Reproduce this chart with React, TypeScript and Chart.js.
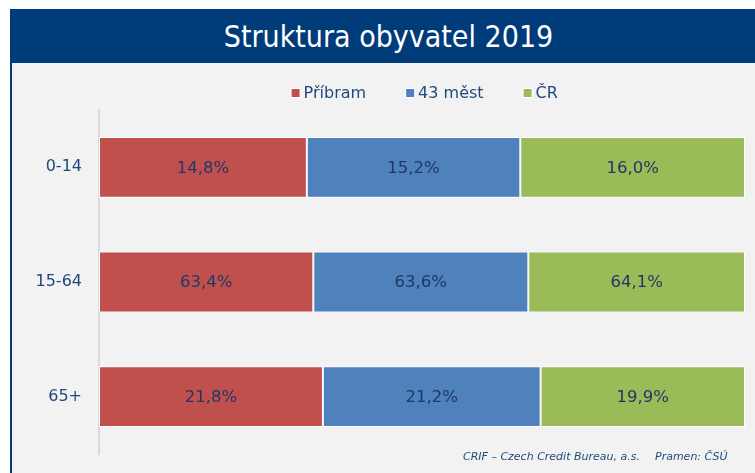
import { useEffect, useRef } from "react";
import { Chart, registerables } from "chart.js";

Chart.register(...registerables);

const categories = ["0-14", "15-64", "65+"];
const seriesNames = ["Příbram", "43 měst", "ČR"];
const pribram = [14.8, 63.4, 21.8];
const mest43 = [15.2, 63.6, 21.2];
const cr = [16.0, 64.1, 19.9];
const seriesColors = ["#C0504D", "#4F81BD", "#9BBB59"];

const titleText = "Struktura obyvatel 2019";
const footerLeft = "CRIF – Czech Credit Bureau, a.s.";
const footerRight = "Pramen: ČSÚ";

const TEXT_BLUE = "#1F497D";
const LABEL_BLUE = "#1F3864";
const HEADER_BLUE = "#003B7A";

const fmt = (v: number) => v.toFixed(1).replace(".", ",") + "%";

const valueLabelsPlugin = {
  id: "valueLabels",
  afterDatasetsDraw(chart: any) {
    const ctx = chart.ctx;
    ctx.save();
    ctx.font = "16.5px 'DejaVu Sans'";
    ctx.fillStyle = LABEL_BLUE;
    ctx.textAlign = "center";
    ctx.textBaseline = "middle";
    chart.data.datasets.forEach((ds: any, di: number) => {
      const meta = chart.getDatasetMeta(di);
      meta.data.forEach((el: any, i: number) => {
        const p = el.getCenterPoint();
        ctx.fillText(fmt(ds.rawValues[i]), p.x, p.y + 1);
      });
    });
    ctx.restore();
  },
};

const customLegendPlugin = {
  id: "customLegend",
  afterDraw(chart: any, _args: any, opts: any) {
    const ctx = chart.ctx;
    ctx.save();
    ctx.font = "16px 'DejaVu Sans'";
    ctx.textBaseline = "middle";
    ctx.textAlign = "left";
    const box = 8;
    const boxGap = 12;
    const itemGap = 40;
    const items = chart.data.datasets.map((ds: any) => ({
      text: ds.label,
      color: ds.backgroundColor,
      w: boxGap + ctx.measureText(ds.label).width,
    }));
    const total =
      items.reduce((s: number, it: any) => s + it.w, 0) + itemGap * (items.length - 1);
    let x = opts.centerX - total / 2;
    const y = opts.centerY;
    items.forEach((it: any) => {
      ctx.fillStyle = "#FFFFFF";
      ctx.fillRect(x - 1, y - box / 2 - 1, box + 2, box + 2);
      ctx.fillStyle = it.color;
      ctx.fillRect(x, y - box / 2, box, box);
      ctx.fillStyle = TEXT_BLUE;
      ctx.fillText(it.text, x + boxGap, y + 1);
      x += it.w + itemGap;
    });
    ctx.restore();
  },
};

function StructureChart() {
  const ref = useRef<HTMLCanvasElement | null>(null);

  useEffect(() => {
    if (!ref.current) return;
    const series = [pribram, mest43, cr];
    const totals = categories.map((_, i) => series.reduce((s, arr) => s + arr[i], 0));
    const datasets = series.map((arr, si) => ({
      label: seriesNames[si],
      data: arr.map((v, i) => (v / totals[i]) * 100),
      rawValues: arr,
      backgroundColor: seriesColors[si],
      borderColor: "#FFFFFF",
      borderWidth: 1,
      borderSkipped: false,
      barPercentage: 0.53,
      categoryPercentage: 1,
    }));

    const chart = new Chart(ref.current, {
      type: "bar",
      data: { labels: categories, datasets: datasets as any },
      options: {
        indexAxis: "y",
        responsive: false,
        animation: false,
        devicePixelRatio: 1,
        layout: { padding: { top: 47, bottom: 19, left: 0, right: 10 } },
        plugins: {
          legend: { display: false },
          tooltip: { enabled: false },
          customLegend: { centerX: 412.75, centerY: 30 },
        } as any,
        scales: {
          x: { stacked: true, min: 0, max: 100, display: false },
          y: {
            stacked: true,
            grid: { display: false, drawTicks: false },
            border: { display: true, color: "#D9D9D9", width: 2 },
            ticks: {
              color: TEXT_BLUE,
              font: { family: "'DejaVu Sans'", size: 16 },
              padding: 17,
            },
            afterFit(scale: any) {
              scale.width = 87;
              scale.paddingTop = 0;
              scale.paddingBottom = 0;
            },
          },
        },
      },
      plugins: [valueLabelsPlugin, customLegendPlugin],
    });
    return () => chart.destroy();
  }, []);

  return (
    <canvas
      ref={ref}
      width={743}
      height={410}
      style={{ position: "absolute", left: 12, top: 63, width: 743, height: 410 }}
    />
  );
}

const footerStyle = {
  position: "absolute" as const,
  top: 450,
  fontFamily: "'DejaVu Sans', sans-serif",
  fontStyle: "italic",
  fontSize: 11,
  lineHeight: "13px",
  color: TEXT_BLUE,
  whiteSpace: "pre" as const,
};

export default function App() {
  return (
    <div
      style={{
        position: "fixed",
        left: 0,
        top: 0,
        width: 755,
        height: 473,
        overflow: "hidden",
        background: "#FFFFFF",
      }}
    >
      <div
        style={{
          position: "absolute",
          left: 10,
          top: 9,
          width: 745,
          height: 54,
          background: HEADER_BLUE,
          color: "#FFFFFF",
          display: "flex",
          alignItems: "center",
          justifyContent: "center",
          boxSizing: "border-box",
          paddingLeft: 12,
          fontFamily: "'DejaVu Sans Condensed', 'DejaVu Sans', sans-serif",
          fontSize: 30,
        }}
      >
        {titleText}
      </div>
      <div
        style={{
          position: "absolute",
          left: 10,
          top: 63,
          width: 745,
          height: 410,
          background: "#F2F2F2",
          borderLeft: `2px solid ${HEADER_BLUE}`,
          boxSizing: "border-box",
        }}
      />
      <StructureChart />
      <div style={{ ...footerStyle, left: 463 }}>{footerLeft}</div>
      <div style={{ ...footerStyle, left: 655 }}>{footerRight}</div>
    </div>
  );
}
